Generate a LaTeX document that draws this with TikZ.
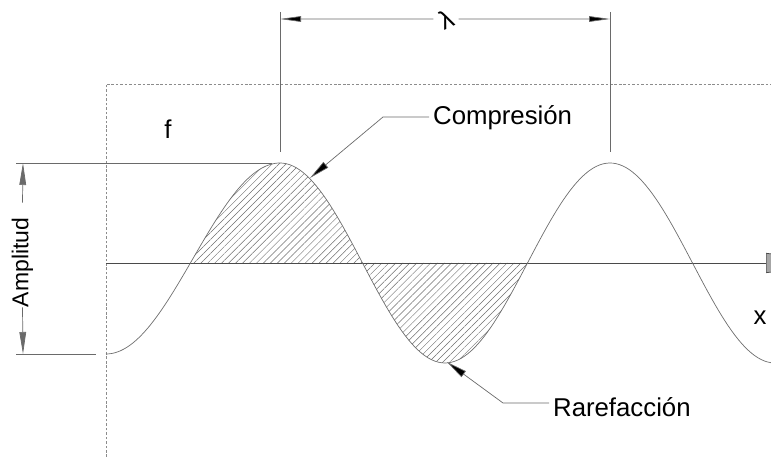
\documentclass[tikz,border=0pt]{standalone}
\usepackage{fontspec}
\setmainfont{Liberation Sans}
\usepackage{tikz}
\usetikzlibrary{arrows.meta,patterns.meta}
\definecolor{wavegray}{HTML}{6E6E6E}
\definecolor{axisgray}{HTML}{4A4A4A}
\definecolor{dimgray}{HTML}{6A6A6A}
\definecolor{dashgray}{HTML}{8C8C8C}

\begin{document}
\begin{tikzpicture}[
  x=0.03cm,y=0.03cm,
  lbl/.style={font=\fontsize{22}{26}\selectfont},
  wave/.style={line width=0.6pt,wavegray},
  hatch/.style={pattern={Lines[angle=45,distance=4.2pt,line width=0.4pt]},
                pattern color=wavegray},
  frame/.style={dashgray,line width=0.6pt,dash pattern=on 2.2pt off 1.6pt},
  ext/.style={line width=0.6pt,dimgray},
  dimarr/.style={-{Triangle[length=0.63cm,width=0.17cm,fill=black]},line width=0.6pt,dimgray},
  amparr/.style={-{Triangle[length=0.66cm,width=0.2cm,fill=dimgray]},line width=0.6pt,dimgray},
  lead/.style={-{Triangle[length=0.62cm,width=0.22cm,fill=black]},line width=0.6pt,dimgray}
]
\useasboundingbox (0,0) rectangle (771,457);
\clip (0,0) rectangle (771,457);

% dashed frame and axis
\draw[frame] (106,0) |- (771,373);
\path[hatch] plot[domain=190.4:280,samples=50] (\x,{198.5-95.5*cos((\x-106)/174*180)})
  -- plot[domain=280:527.5,samples=100] (\x,{194+100*cos((\x-280)/330*360)}) -- cycle;
\draw[line width=0.6pt,axisgray,-{Triangle[length=2.4cm,width=0.6cm,fill=gray!70]}]
  (106,194) -- (846,194);
\draw[wave] plot[domain=106:280,samples=60] (\x,{198.5-95.5*cos((\x-106)/174*180)})
  -- plot[domain=280:771,samples=150] (\x,{194+100*cos((\x-280)/330*360)});

% amplitude
\coordinate (amptop) at (23,294);
\coordinate (ampbot) at (23,103);
\draw[ext] (16,294) -- (272,294);
\draw[ext] (16,103) -- (96,103);
\node[font=\fontsize{19.6}{23}\selectfont,rotate=90,inner sep=0pt] (amplitud) at (22.5,194.5) {Amplitud};
\draw[amparr] ([yshift=0.45cm]amplitud.east) -- (amptop);
\draw[amparr] (amplitud.west) -- (ampbot);

% wavelength
\coordinate (wlL) at (280,438);
\coordinate (wlR) at (610,438);
\draw[ext] (280,445) -- (280,305);
\draw[ext] (610,445) -- (610,305);
\node[lbl,rotate=25,inner sep=4pt] (lambda) at (446,438) {λ};
\draw[dimarr] (lambda) -- (wlL);
\draw[dimarr] (lambda) -- (wlR);

% labels
\node[lbl] (f) at (168,328) {f};
\node[lbl] (xlabel) at (760,139) {x};

\coordinate (comptip) at (310,279);
\coordinate (compknee) at (383,340);
\node[lbl,anchor=base west] (compresion) at (429,332) {Compresión};
\draw[lead] (compknee -| compresion.west) -- (compknee) -- (comptip);

\coordinate (raretip) at (447,95);
\coordinate (rareknee) at (503,54);
\node[lbl,anchor=base west] (rarefaccion) at (549,40) {Rarefacción};
\draw[lead] (rareknee -| rarefaccion.west) -- (rareknee) -- (raretip);
\end{tikzpicture}
\end{document}
